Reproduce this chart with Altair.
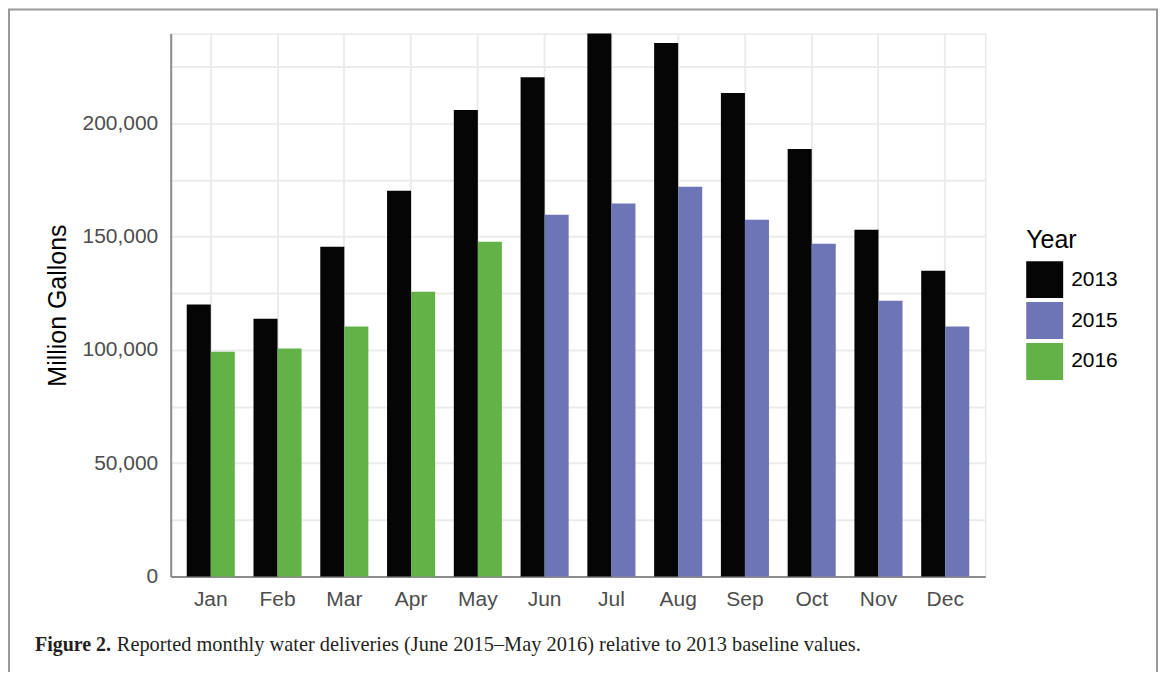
import altair as alt
import pandas as pd

months = ["Jan", "Feb", "Mar", "Apr", "May", "Jun", "Jul", "Aug", "Sep", "Oct", "Nov", "Dec"]
base_2013 = [120000, 113800, 145500, 170200, 205900, 220300, 239600, 235400, 213400, 188700, 153000, 134900]
comp_year = ["2016", "2016", "2016", "2016", "2016", "2015", "2015", "2015", "2015", "2015", "2015", "2015"]
comp_vals = [99200, 100600, 110300, 125700, 147700, 159600, 164600, 172000, 157400, 146800, 121700, 110300]
years = ["2013", "2015", "2016"]
year_colors = ["#050505", "#6E75B7", "#63B247"]
y_ticks = list(range(0, 239600, 25000))

rows = []
for m, b, cy, cv in zip(months, base_2013, comp_year, comp_vals):
    rows.append({"Month": m, "Year": "2013", "Gallons": b, "slot": "a"})
    rows.append({"Month": m, "Year": cy, "Gallons": cv, "slot": "b"})
df = pd.DataFrame(rows)

W, H = 816, 544
sans = "Liberation Sans"

bars = alt.Chart(df).mark_bar().encode(
    x=alt.X("Month:N", sort=months,
            scale=alt.Scale(paddingInner=0.28, paddingOuter=0.24),
            axis=alt.Axis(title=None, labelAngle=0, grid=True, bandPosition=0.5,
                          ticks=False, labelPadding=12, labelFontSize=21,
                          labelColor="#4D4D4D", labelFont=sans,
                          domainColor="#8C8C8C", domainWidth=2,
                          gridColor="#EBEBEB", gridWidth=2)),
    xOffset=alt.XOffset("slot:N", scale=alt.Scale(paddingInner=0, paddingOuter=0)),
    y=alt.Y("Gallons:Q", scale=alt.Scale(domain=[0, 239600], nice=False),
            axis=alt.Axis(title="Million Gallons", values=y_ticks,
                          labelExpr="datum.value % 50000 === 0 ? format(datum.value, ',') : ''",
                          ticks=False, labelPadding=13, labelFontSize=21,
                          labelColor="#4D4D4D", labelFont=sans,
                          titleFont=sans, titleFontSize=25, titleFontWeight="normal",
                          titleColor="#000000", titlePadding=11,
                          domainColor="#8C8C8C", domainWidth=2,
                          gridColor="#EBEBEB", gridWidth=2)),
    color=alt.Color("Year:N", scale=alt.Scale(domain=years, range=year_colors),
                    legend=alt.Legend(orient="none", legendX=857, legendY=195,
                                      title="Year", titleFont=sans, titleFontSize=25,
                                      titleFontWeight="normal", titleColor="#000000",
                                      titlePadding=8, labelFont=sans, labelFontSize=21,
                                      labelColor="#000000", labelOffset=8,
                                      symbolType="square", symbolSize=1369,
                                      symbolStrokeWidth=0, symbolOpacity=1,
                                      rowPadding=4)),
)

frame_df = pd.DataFrame({"k": [0]})
frame = alt.Chart(frame_df).mark_rect(fillOpacity=0, stroke="#999999", strokeWidth=2).encode(
    x=alt.value(-162), x2=alt.value(988), y=alt.value(-24), y2=alt.value(720)
)

cap_bold = alt.Chart(frame_df).mark_text(
    text="Figure 2.", font="Liberation Serif", fontSize=20, fontWeight="bold",
    align="left", baseline="alphabetic", color="#231F20"
).encode(x=alt.value(-136), y=alt.value(619))

cap_text = alt.Chart(frame_df).mark_text(
    text="Reported monthly water deliveries (June 2015\u2013May 2016) relative to 2013 baseline values.",
    font="Liberation Serif", fontSize=20.4, align="left", baseline="alphabetic", color="#231F20"
).encode(x=alt.value(-54), y=alt.value(619))

chart = alt.layer(bars, frame, cap_bold, cap_text).properties(
    width=W, height=H,
    autosize=alt.AutoSizeParams(type="none"),
    padding={"left": 163, "top": 25, "right": 174, "bottom": 95},
).configure_view(stroke=None).configure(background="white")

chart.save("out.html", embed_options={"renderer": "svg", "actions": False})
